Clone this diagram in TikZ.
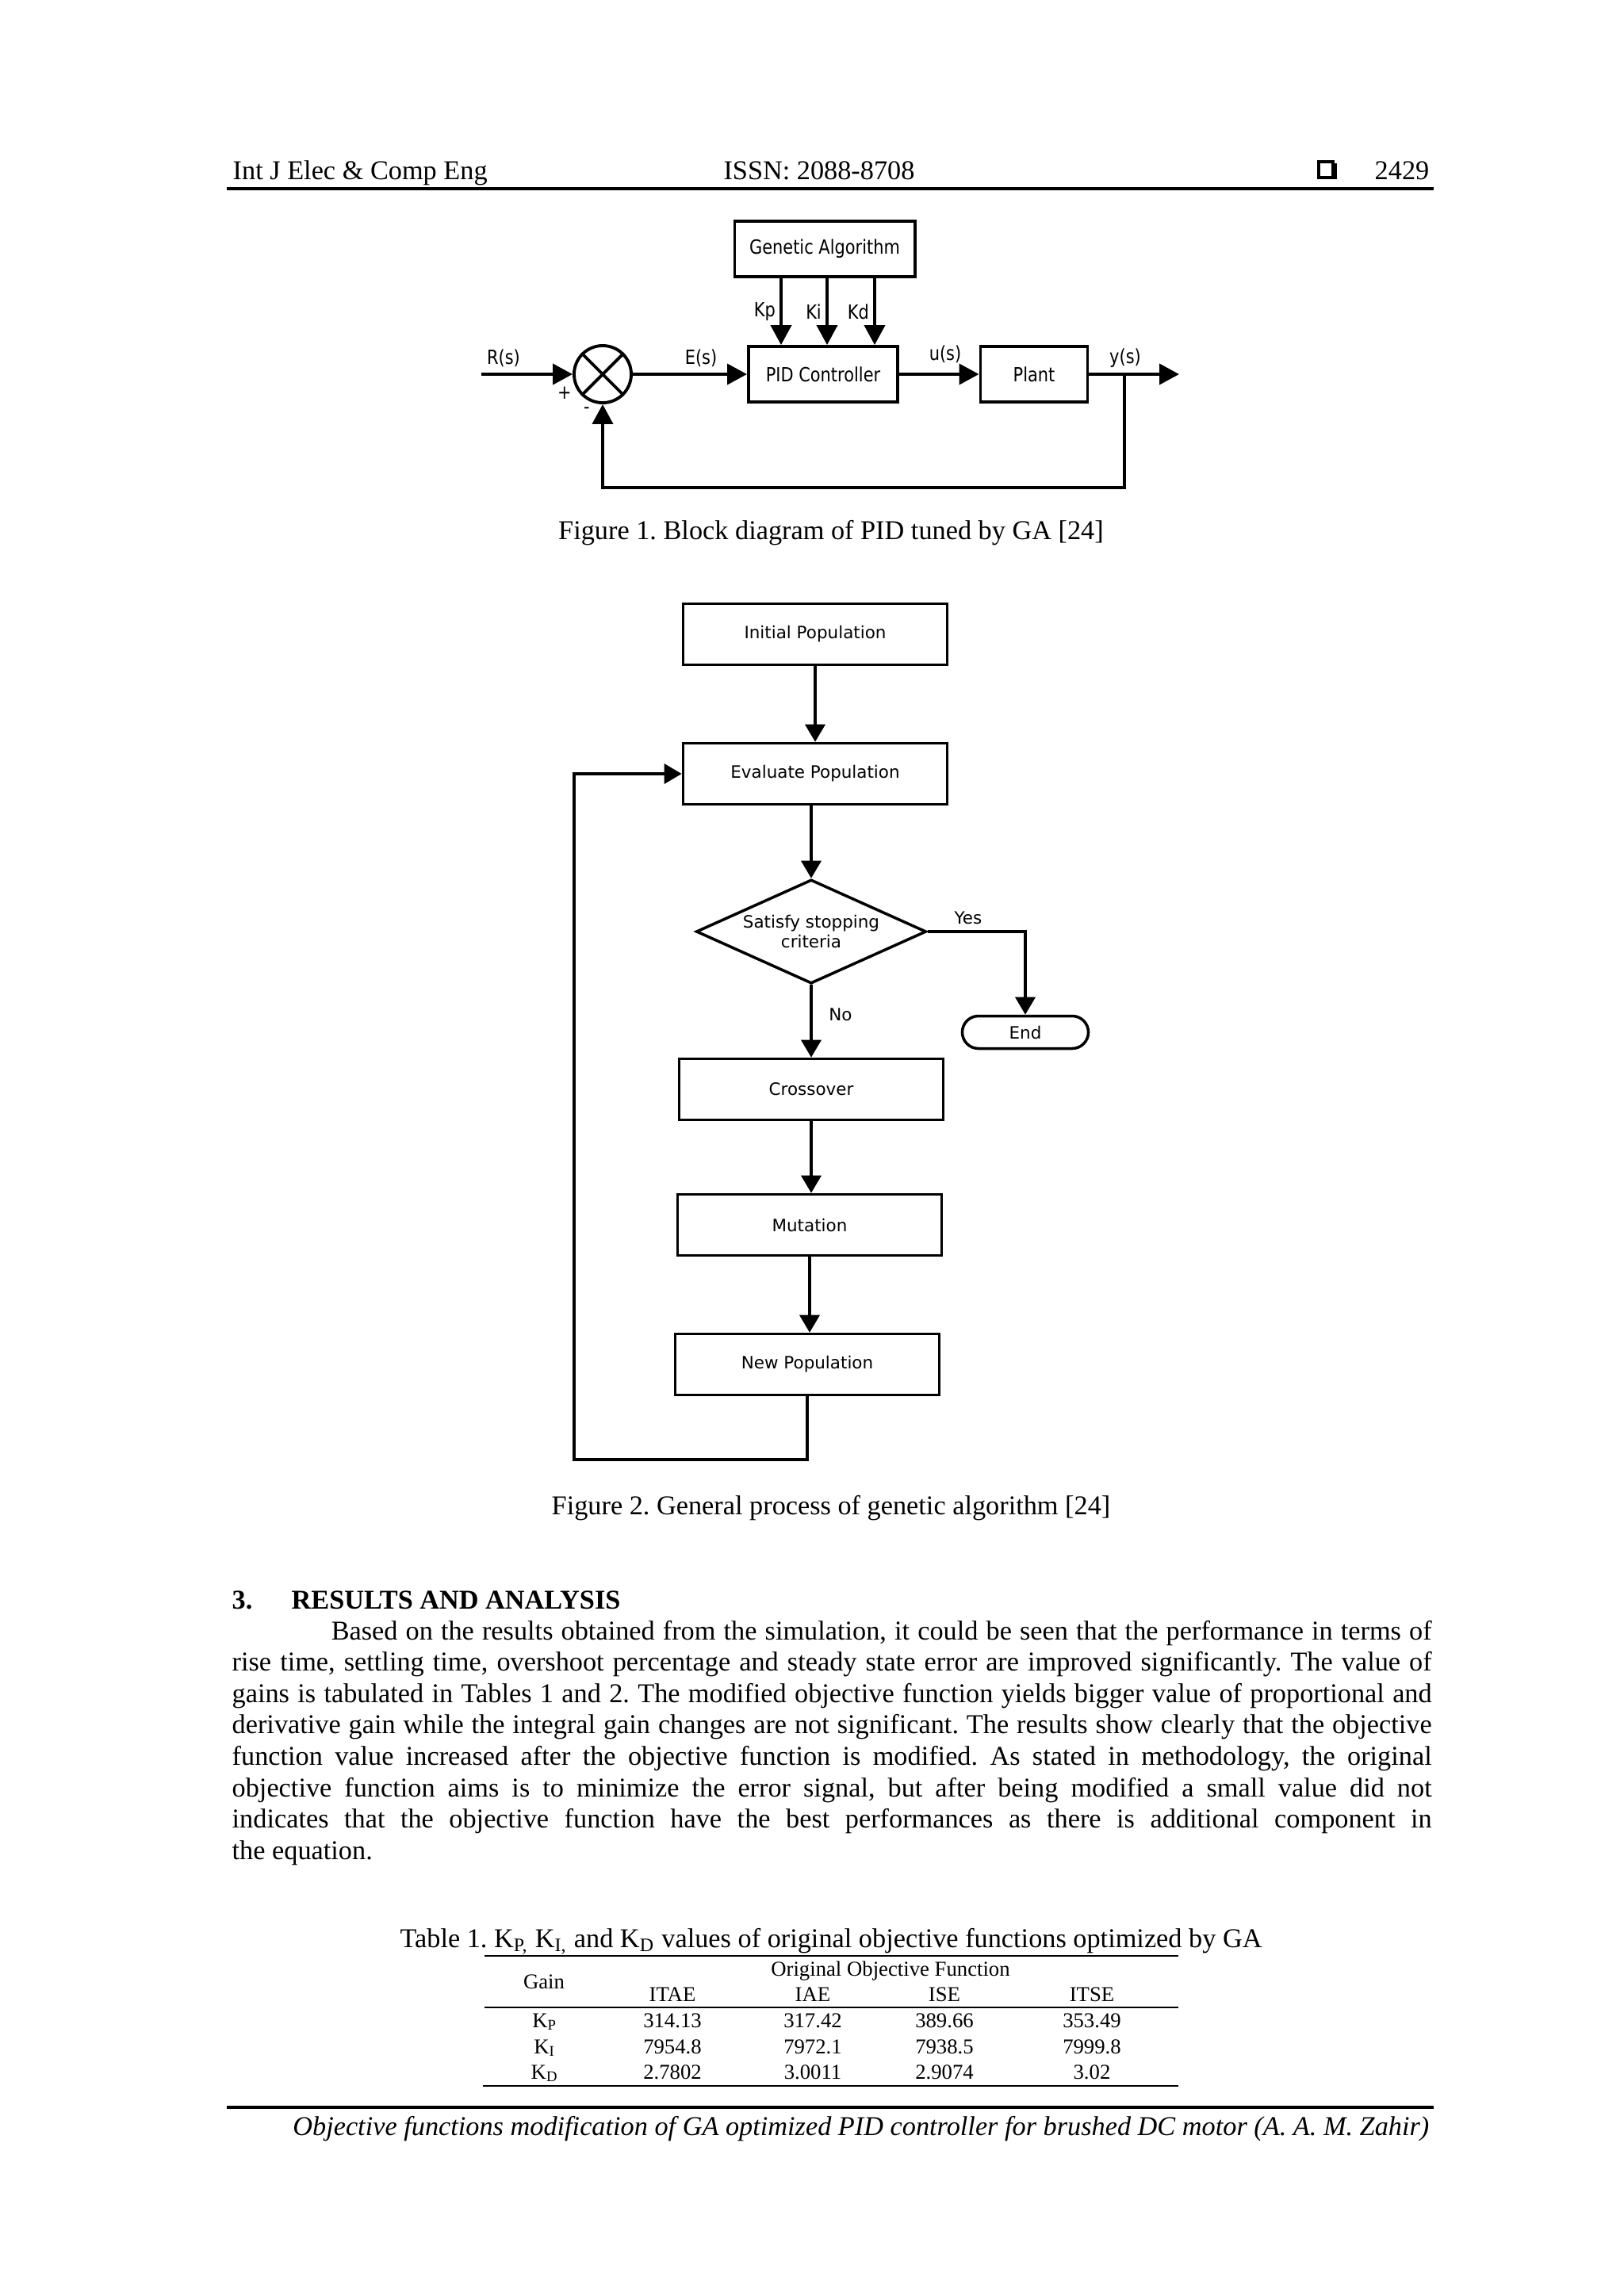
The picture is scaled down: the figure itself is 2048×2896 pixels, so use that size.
\documentclass[tikz,border=0pt]{standalone}
\usepackage{fontspec}
\setmainfont{Liberation Serif}
\newfontfamily\diagfont{DejaVu Sans}
\newfontfamily\blockfont[FakeStretch=0.85]{DejaVu Sans}
\usepackage{tikz}
\usetikzlibrary{shapes.geometric, shapes.misc, arrows.meta, positioning, calc}
\frenchspacing

\tikzset{
  pagetext/.style={inner sep=0pt, font=\fontsize{9.75pt}{11.26pt}\selectfont},
  tabletext/.style={inner sep=0pt, font=\fontsize{7.6pt}{9pt}\selectfont},
  blk/.style={draw, line width=1.1pt, inner sep=0pt, minimum height=0.70cm, font=\blockfont\fontsize{7pt}{8pt}\selectfont},
  sig/.style={line width=1.1pt, -{Triangle[length=0.25cm, width=0.26cm]}},
  siglabel/.style={inner sep=1.5pt, font=\blockfont\fontsize{7pt}{8pt}\selectfont},
  flowbox/.style={draw, line width=1pt, minimum width=3.33cm, minimum height=0.77cm, inner sep=0pt, font=\diagfont\fontsize{6.1pt}{7.5pt}\selectfont},
  flow/.style={line width=1pt, -{Triangle[length=0.22cm, width=0.25cm]}},
  flowlabel/.style={inner sep=1pt, font=\diagfont\fontsize{6.1pt}{7.5pt}\selectfont},
  pagerule/.style={line width=0.9pt},
  tablerule/.style={line width=0.6pt}
}

\begin{document}
\begin{tikzpicture}[x=0.01cm, y=-0.01cm]
  \fill[white] (0,0) rectangle (2048,2896);
  \useasboundingbox (0,0) rectangle (2048,2896);

  % Running head
  \node[pagetext, anchor=base west] (journal) at (293,226) {Int J Elec \& Comp Eng};
  \node[pagetext, anchor=base] (issn) at (1033,226) {ISSN: 2088-8708};
  \node[pagetext, anchor=base east] (pageno) at (1803,226) {2429};
  \draw[line width=0.9pt] (1663,204) rectangle (1681,224);
  \fill (1681,206) rectangle (1686,226);
  \draw[pagerule] (286,238) -- (1808,238);

  % Figure 1: PID loop tuned by GA
  \node[blk, minimum width=2.27cm, minimum height=0.70cm] (ga) at (1040,314) {Genetic Algorithm};
  \node[blk, minimum width=1.88cm] (pid) at (1038,472) {PID Controller};
  \node[blk, minimum width=1.35cm] (plant) at (1304,472) {Plant};
  \node[draw, circle, line width=1.1pt, minimum size=0.72cm, inner sep=0pt] (sum) at (760,472) {};
  \draw[line width=1.1pt] (sum.north west) -- (sum.south east);
  \draw[line width=1.1pt] (sum.north east) -- (sum.south west);

  \coordinate (ref) at (607,472);
  \coordinate (yj) at (1418,472);
  \coordinate (fb) at (1418,615);
  \coordinate (out) at (1487,472);

  \draw[sig] (ref) -- (sum.west);
  \draw[sig] (sum.east) -- (pid.west);
  \draw[sig] (pid.east) -- (plant.west);
  \draw[sig] (plant.east) -- (out);
  \draw[sig] (yj) -- (fb) -| (sum.south);

  \draw[sig] (985,0 |- ga.south) -- (985,0 |- pid.north) node[siglabel, midway, left] (kp) {Kp};
  \draw[sig] (1043,0 |- ga.south) -- (1043,0 |- pid.north) node[siglabel, midway, left] (ki) {Ki};
  \draw[sig] (1103,0 |- ga.south) -- (1103,0 |- pid.north) node[siglabel, midway, left] (kd) {Kd};

  \node[siglabel] (rs) at (635,452) {R(s)};
  \node[siglabel] (es) at (884,452) {E(s)};
  \node[siglabel] (us) at (1192,447) {u(s)};
  \node[siglabel] (ys) at (1419,452) {y(s)};
  \node[siglabel] (plus) at (712,496) {+};
  \node[siglabel] (minus) at (740,518) {-};

  \node[pagetext, anchor=base] (cap1) at (1048,680) {Figure 1. Block diagram of PID tuned by GA [24]};

  % Figure 2: GA flowchart
  \node[flowbox] (init) at (1028,800) {Initial Population};
  \node[flowbox] (eval) at (1028,976) {Evaluate Population};
  \node[draw, diamond, aspect=2.2, line width=1pt, minimum width=2.9cm, minimum height=1.31cm, inner sep=0pt, align=center, font=\diagfont\fontsize{6.1pt}{7.3pt}\selectfont] (stop) at (1023,1175) {Satisfy stopping\\criteria};
  \node[draw, rounded rectangle, line width=1pt, minimum width=1.59cm, minimum height=0.41cm, inner sep=0pt, font=\diagfont\fontsize{6.1pt}{7.5pt}\selectfont] (finish) at (1293,1302) {End};
  \node[flowbox] (cross) at (1023,1374) {Crossover};
  \node[flowbox] (mut) at (1021,1545) {Mutation};
  \node[flowbox] (newp) at (1018,1721) {New Population};

  \draw[flow] (init) -- (eval);
  \draw[flow] (eval.south -| stop.north) -- (stop.north);
  \draw[flow] (stop.east) -| (finish.north);
  \draw[flow] (stop.south) -- (cross.north);
  \draw[flow] (cross.south) -- (cross.south |- mut.north);
  \draw[flow] (mut.south) -- (mut.south |- newp.north);
  \coordinate (loopcorner) at (724,1841);
  \draw[flow] (newp.south) |- (loopcorner) |- (eval.west);

  \node[flowlabel] (yes) at (1221,1158) {Yes};
  \node[flowlabel] (no) at (1060,1280) {No};

  \node[pagetext, anchor=base] (cap2) at (1048,1910) {Figure 2. General process of genetic algorithm [24]};

  % Section 3
  \node[pagetext, anchor=base west] (secno) at (292,2029) {\bfseries 3.};
  \node[pagetext, anchor=base west] (sectitle) at (367,2029) {\bfseries RESULTS AND ANALYSIS};
  \node[pagetext, anchor=base west] (body) at (292,2068) {\parbox[t]{15.12cm}{\fontsize{9.75pt}{11.26pt}\selectfont
    \hspace*{1.25cm}Based on the results obtained from the simulation, it could be seen that the performance in terms of\linebreak
    rise time, settling time, overshoot percentage and steady state error are improved significantly. The value of\linebreak
    gains is tabulated in Tables 1 and 2. The modified objective function yields bigger value of proportional and\linebreak
    derivative gain while the integral gain changes are not significant. The results show clearly that the objective\linebreak
    function value increased after the objective function is modified. As stated in methodology, the original\linebreak
    objective function aims is to minimize the error signal, but after being modified a small value did not\linebreak
    indicates that the objective function have the best performances as there is additional component in\linebreak
    the equation.}};

  % Table 1
  \node[pagetext, anchor=base] (tabcap) at (1048,2456) {Table 1. K\textsubscript{P,} K\textsubscript{I,} and K\textsubscript{D} values of original objective functions optimized by GA};
  \draw[tablerule] (611,2467) -- (1486,2467);
  \draw[tablerule] (611,2532) -- (1486,2532);
  \draw[tablerule] (609,2631) -- (1486,2631);

  \node[tabletext, anchor=base] (hgain) at (686,2508) {Gain};
  \node[tabletext, anchor=base] (hobj) at (1123,2492) {Original Objective Function};
  \node[tabletext, anchor=base] (hitae) at (848,2524) {ITAE};
  \node[tabletext, anchor=base] (hiae) at (1025,2524) {IAE};
  \node[tabletext, anchor=base] (hise) at (1191,2524) {ISE};
  \node[tabletext, anchor=base] (hitse) at (1377,2524) {ITSE};

  \node[tabletext, anchor=base] (kp1) at (687,2557) {K\textsubscript{P}};
  \node[tabletext, anchor=base] (kp2) at (848,2557) {314.13};
  \node[tabletext, anchor=base] (kp3) at (1025,2557) {317.42};
  \node[tabletext, anchor=base] (kp4) at (1191,2557) {389.66};
  \node[tabletext, anchor=base] (kp5) at (1377,2557) {353.49};

  \node[tabletext, anchor=base] (ki1) at (687,2590) {K\textsubscript{I}};
  \node[tabletext, anchor=base] (ki2) at (848,2590) {7954.8};
  \node[tabletext, anchor=base] (ki3) at (1025,2590) {7972.1};
  \node[tabletext, anchor=base] (ki4) at (1191,2590) {7938.5};
  \node[tabletext, anchor=base] (ki5) at (1377,2590) {7999.8};

  \node[tabletext, anchor=base] (kd1) at (687,2622) {K\textsubscript{D}};
  \node[tabletext, anchor=base] (kd2) at (848,2622) {2.7802};
  \node[tabletext, anchor=base] (kd3) at (1025,2622) {3.0011};
  \node[tabletext, anchor=base] (kd4) at (1191,2622) {2.9074};
  \node[tabletext, anchor=base] (kd5) at (1377,2622) {3.02};

  % Running foot
  \draw[pagerule] (286,2658) -- (1808,2658);
  \node[pagetext, anchor=base east] (runfoot) at (1803,2693) {\itshape Objective functions modification of GA optimized PID controller for brushed DC motor (A. A. M. Zahir)};
\end{tikzpicture}
\end{document}
